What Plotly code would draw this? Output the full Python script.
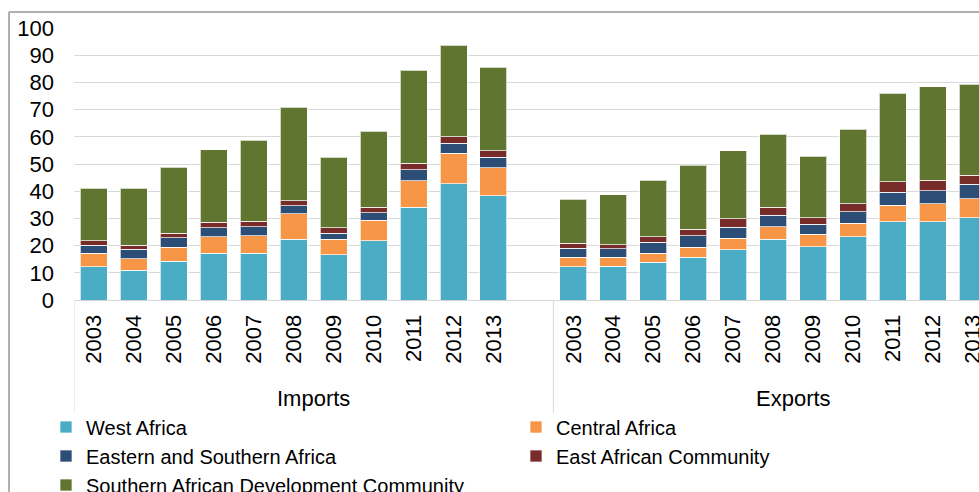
import plotly.graph_objects as go

# Dados (valores aproximados)
anos = ['2003', '2004', '2005', '2006', '2007', '2008', '2009', '2010', '2011', '2012', '2013']
grupos = ['Imports', 'Exports']

regioes = ['West Africa', 'Central Africa', 'Eastern and Southern Africa',
           'East African Community', 'Southern African Development Community']
cores = ['#4BACC6', '#F79646', '#2C4D75', '#772C2A', '#5F7530']

imp_west = [12.3, 10.9, 14.2, 17.1, 17.1, 22.3, 16.6, 21.8, 34.1, 42.7, 38.4]
imp_central = [4.9, 4.2, 5.2, 6.1, 6.6, 9.5, 5.7, 7.6, 9.8, 11.2, 10.3]
imp_esa = [3.0, 3.6, 3.4, 3.3, 3.2, 2.8, 2.2, 2.7, 4.0, 3.8, 3.8]
imp_eac = [1.6, 1.5, 1.7, 2.0, 2.1, 1.8, 2.0, 2.0, 2.3, 2.4, 2.3]
imp_sadc = [19.3, 20.9, 24.3, 26.8, 29.7, 34.5, 26.0, 27.9, 34.3, 33.6, 30.8]

exp_west = [12.3, 12.4, 13.8, 15.7, 18.5, 22.3, 19.5, 23.2, 28.8, 28.8, 30.3]
exp_central = [3.4, 3.3, 3.4, 3.7, 4.2, 4.7, 4.6, 5.1, 6.1, 6.6, 7.0]
exp_esa = [3.3, 3.2, 4.0, 4.3, 4.1, 4.1, 3.8, 4.2, 4.8, 4.8, 5.2]
exp_eac = [1.9, 1.4, 2.0, 2.3, 3.0, 3.0, 2.4, 2.9, 3.7, 3.8, 3.3]
exp_sadc = [16.2, 18.4, 20.8, 23.5, 25.0, 26.8, 22.5, 27.3, 32.6, 34.4, 33.5]

importacoes = [imp_west, imp_central, imp_esa, imp_eac, imp_sadc]
exportacoes = [exp_west, exp_central, exp_esa, exp_eac, exp_sadc]

# Posições das categorias: um espaço vazio entre importações e exportações
n = len(anos)
pos_imp = list(range(n))
pos_exp = [n + 1 + i for i in range(n)]
posicoes = pos_imp + pos_exp

FONTE = 'Arial, Liberation Sans, sans-serif'
W, H = 979, 492
ML, MT, MB = 74, 28, 192
PW = W - ML
PH = H - MT - MB
PASSO = 39.95  # largura de cada categoria em pixels


def px_x(px):
    return (px - ML) / PW


def px_y(py):
    return (H - MB - py) / PH


fig = go.Figure()

for i, regiao in enumerate(regioes):
    fig.add_trace(go.Bar(
        x=posicoes,
        y=importacoes[i] + exportacoes[i],
        name=regiao,
        marker=dict(color=cores[i], line=dict(color='rgba(255,255,255,0.7)', width=1)),
    ))

# Linhas separadoras dos grupos de categorias
for s in [-0.5, n + 0.5, 2 * n + 1.5]:
    fig.add_shape(type='line', xref='x', yref='paper', x0=s, x1=s, y0=0, y1=px_y(413),
                  line=dict(color='#D9D9D9', width=1))

# Rótulos dos grupos
centros = [(-0.5 + n + 0.5) / 2, (n + 0.5 + 2 * n + 1.5) / 2]
for g, c in zip(grupos, centros):
    fig.add_annotation(x=c, xref='x', y=px_y(398), yref='paper', text=g, showarrow=False,
                       font=dict(family=FONTE, size=22, color='#000000'),
                       xanchor='center', yanchor='middle')

# Moldura cinza do gráfico
fig.add_shape(type='line', xref='paper', yref='paper', x0=px_x(9), x1=px_x(W + 5),
              y0=px_y(12), y1=px_y(12), line=dict(color='#B0B0B0', width=2))
fig.add_shape(type='line', xref='paper', yref='paper', x0=px_x(9), x1=px_x(9),
              y0=px_y(12), y1=px_y(H + 5), line=dict(color='#B0B0B0', width=2))

fig.update_layout(
    width=W, height=H,
    margin=dict(l=ML, r=0, t=MT, b=MB, autoexpand=False),
    paper_bgcolor='white', plot_bgcolor='white',
    barmode='stack', bargap=0.325,
    font=dict(family=FONTE, color='#000000'),
    xaxis=dict(
        range=[-0.5, -0.5 + PW / PASSO],
        tickvals=posicoes,
        ticktext=anos + anos,
        tickangle=-90,
        tickfont=dict(size=22),
        showgrid=False, zeroline=False,
        showline=True, linecolor='#D9D9D9', linewidth=1,
        ticks='', ticklabelstandoff=5,
        ticklabeloverflow='allow',
    ),
    yaxis=dict(
        range=[0, 100], dtick=10,
        tickfont=dict(size=22),
        showgrid=True, gridcolor='#D9D9D9', gridwidth=1,
        zeroline=False, showline=False, ticks='',
        ticklabelstandoff=19,
    ),
    legend=dict(
        orientation='h',
        x=px_x(46), xanchor='left',
        y=px_y(407.5), yanchor='top',
        entrywidth=425, entrywidthmode='pixels',
        font=dict(family=FONTE, size=20, color='#000000'),
        tracegroupgap=0, traceorder='normal',
        bgcolor='rgba(0,0,0,0)',
    ),
    showlegend=True,
)

fig.write_html('out.html', config={'displayModeBar': False},
               post_script="document.body.style.margin='0';")
